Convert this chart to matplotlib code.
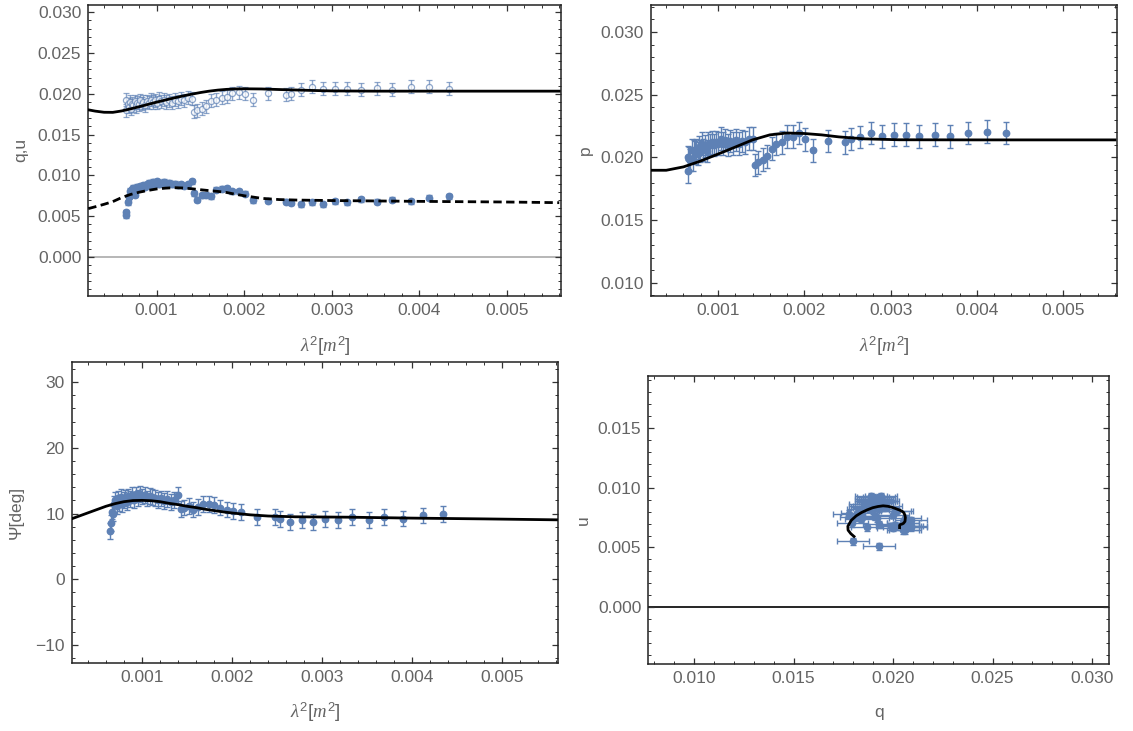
import matplotlib.pyplot as plt
from matplotlib.ticker import MultipleLocator, FormatStrFormatter, FuncFormatter

# fonts: Arial-like for numbers, serif italic for the math symbols
plt.rcParams['font.family'] = ['Liberation Sans', 'DejaVu Sans']
plt.rcParams['mathtext.fontset'] = 'custom'
plt.rcParams['mathtext.rm'] = 'Liberation Sans'
plt.rcParams['mathtext.it'] = 'Liberation Serif:italic'

# ---- measured data (lambda^2 in m^2) ----
lam2 = [0.000650, 0.000655, 0.000668, 0.000680, 0.000693, 0.000706, 0.000720,
        0.000734, 0.000749, 0.000764, 0.000780, 0.000796, 0.000813, 0.000831,
        0.000849, 0.000868, 0.000888, 0.000909, 0.000931, 0.000954, 0.000978,
        0.001003, 0.001029, 0.001056, 0.001084, 0.001113, 0.001143, 0.001175,
        0.001208, 0.001243, 0.001280, 0.001318, 0.001358, 0.001400, 0.001430,
        0.001464, 0.001518, 0.001568, 0.001622, 0.001676, 0.001742, 0.001800,
        0.001865, 0.001943, 0.002012, 0.002097, 0.002275, 0.002476, 0.002537,
        0.002646, 0.002773, 0.002901, 0.003036, 0.003175, 0.003333, 0.003515,
        0.003689, 0.003901, 0.004113, 0.004341]

q = [0.0193, 0.0180, 0.0187, 0.0184, 0.0190, 0.0182, 0.0188, 0.0186, 0.0191,
     0.0185, 0.0189, 0.0187, 0.0192, 0.0188, 0.0190, 0.0186, 0.0191, 0.0189,
     0.0193, 0.0190, 0.0192, 0.0189, 0.0194, 0.0191, 0.0193, 0.0190, 0.0192,
     0.0189, 0.0193, 0.0191, 0.0194, 0.0192, 0.0195, 0.0194, 0.0178,
     0.01796, 0.01816, 0.01845, 0.01918, 0.01927, 0.01951, 0.01967, 0.02008,
     0.02020, 0.02000, 0.01927, 0.02008, 0.01992, 0.02000, 0.02049, 0.02090,
     0.02061, 0.02061, 0.02061, 0.02049, 0.02069, 0.02049, 0.02090, 0.02090,
     0.02061]

u = [0.0051, 0.0055, 0.0067, 0.0074, 0.0081, 0.0079, 0.0083, 0.0085, 0.0076,
     0.0082, 0.0086, 0.0084, 0.0087, 0.0085, 0.0088, 0.0086, 0.0089, 0.0091,
     0.0088, 0.0092, 0.0090, 0.0093, 0.0089, 0.0091, 0.0092, 0.0090, 0.0091,
     0.0089, 0.0090, 0.0088, 0.0089, 0.0087, 0.0089, 0.0093, 0.0078,
     0.00702, 0.00755, 0.00763, 0.00743, 0.00824, 0.00837, 0.00845, 0.00804,
     0.00804, 0.00776, 0.00694, 0.00686, 0.00678, 0.00665, 0.00645, 0.00669,
     0.00645, 0.00682, 0.00669, 0.00706, 0.00678, 0.00702, 0.00682, 0.00727,
     0.00743]

p = [0.0200, 0.0189, 0.0199, 0.0198, 0.0206, 0.0198, 0.0205, 0.0204, 0.0206,
     0.0203, 0.0208, 0.0205, 0.0211, 0.0206, 0.0209, 0.0205, 0.0211, 0.0210,
     0.0212, 0.0210, 0.0212, 0.0211, 0.0215, 0.0211, 0.0214, 0.0210, 0.0213,
     0.0211, 0.0214, 0.0211, 0.0213, 0.0212, 0.0215, 0.0215, 0.0194,
     0.0196, 0.01983, 0.02010, 0.02071, 0.02108, 0.02121, 0.02166, 0.02166,
     0.02195, 0.02145, 0.02057, 0.02132, 0.02121, 0.02148, 0.02164, 0.02195,
     0.02169, 0.02182, 0.02182, 0.02169, 0.02182, 0.02169, 0.02195, 0.02206,
     0.02195]

psi = [7.3, 8.6, 10.3, 10.0, 11.5, 12.1, 11.2, 12.3, 11.6, 12.5, 11.4, 12.0,
       12.4, 11.7, 12.6, 12.2, 12.8, 12.0, 12.9, 12.4, 13.0, 12.6, 12.8, 12.3,
       12.7, 12.5, 12.4, 12.1, 12.3, 11.9, 12.2, 11.8, 12.0, 12.8, 10.7,
       10.9, 11.1, 10.6, 11.0, 11.4, 11.5, 11.3, 10.9, 10.6, 10.35, 10.2, 9.44,
       9.44, 9.19, 8.74, 8.99, 8.74, 9.19, 8.99, 9.44, 8.99, 9.5, 9.24, 9.7,
       9.95]

q_err = 0.0008
u_err = 0.0003
p_err = 0.0009
psi_err = 1.2

# ---- model curves ----
fit_lam2 = [0.00022, 0.0003, 0.0004, 0.0005, 0.0006, 0.0007, 0.0008, 0.0009,
            0.0010, 0.0011, 0.0012, 0.0013, 0.0014, 0.0015, 0.0016, 0.0017,
            0.0018, 0.0019, 0.0020, 0.0022, 0.0024, 0.0026, 0.0028, 0.0030,
            0.0035, 0.0040, 0.0045, 0.0050, 0.0056]
q_fit = [0.01804, 0.01788, 0.01774, 0.01773, 0.01790, 0.01815, 0.01842,
         0.01870, 0.01898, 0.01924, 0.01950, 0.01974, 0.01996, 0.02016,
         0.02033, 0.02046, 0.02055, 0.02060, 0.02062, 0.02060, 0.02053,
         0.02047, 0.02041, 0.02036, 0.02033, 0.02033, 0.02033, 0.02033,
         0.02033]
u_fit = [0.00592, 0.00615, 0.00645, 0.00678, 0.00727, 0.00765, 0.00793,
         0.00815, 0.00833, 0.00843, 0.00849, 0.00845, 0.00836, 0.00824,
         0.00813, 0.00803, 0.00790, 0.00768, 0.00750, 0.00718, 0.00703,
         0.00697, 0.00694, 0.00691, 0.00686, 0.00681, 0.00677, 0.00673,
         0.00665]

p_fit_lam2 = [0.00022, 0.0004, 0.0006, 0.0008, 0.0010, 0.0012, 0.0014, 0.0016,
              0.0018, 0.0020, 0.0022, 0.0024, 0.0027, 0.0031, 0.0040, 0.0056]
p_fit = [0.01898, 0.01898, 0.01925, 0.01972, 0.02027, 0.02083, 0.02140,
         0.02180, 0.02195, 0.02191, 0.02180, 0.02164, 0.02148, 0.02141,
         0.02140, 0.02140]

psi_fit_lam2 = [0.00022, 0.0003, 0.0004, 0.0005, 0.0006, 0.0007, 0.0008,
                0.0009, 0.0010, 0.0011, 0.0012, 0.0013, 0.0014, 0.0015,
                0.0016, 0.0017, 0.0018, 0.0019, 0.0020, 0.0022, 0.0024,
                0.0027, 0.0033, 0.0040, 0.0048, 0.0056]
psi_fit = [9.2, 9.6, 10.1, 10.6, 11.1, 11.5, 11.8, 11.97, 12.0, 11.95, 11.8,
           11.55, 11.35, 11.1, 10.9, 10.65, 10.45, 10.25, 10.08, 9.8, 9.62,
           9.5, 9.44, 9.3, 9.18, 9.04]

BLUE = '#5e81b5'
LABEL = '#646464'
W, H = 1133, 731


def box(l, t, r, b):
    # pixel box -> figure fraction
    return [l / W, 1 - b / H, (r - l) / W, (b - t) / H]


def style(ax, xmaj, xmin, ymaj, ymin, xfmt, yfmt):
    ax.xaxis.set_major_locator(MultipleLocator(xmaj))
    ax.xaxis.set_minor_locator(MultipleLocator(xmin))
    ax.yaxis.set_major_locator(MultipleLocator(ymaj))
    ax.yaxis.set_minor_locator(MultipleLocator(ymin))
    ax.xaxis.set_major_formatter(xfmt)
    ax.yaxis.set_major_formatter(yfmt)
    ax.tick_params(which='both', direction='in', top=True, right=True,
                   color='#333333', labelcolor=LABEL, labelsize=12.5, pad=5)
    ax.tick_params(which='major', length=4.5, width=0.9)
    ax.tick_params(which='minor', length=2.5, width=0.7)
    for s in ax.spines.values():
        s.set_color('#222222')
        s.set_linewidth(1.1)


f3 = FormatStrFormatter('%.3f')
fint = FuncFormatter(lambda v, pos: ('%d' % round(v)).replace('-', '\u2212'))

fig = plt.figure(figsize=(W / 100, H / 100), dpi=100)

ebar = dict(ecolor=BLUE, elinewidth=1.0, capsize=2.5, capthick=1.0)

# top left: q and u
ax1 = fig.add_axes(box(88.3, 5, 561, 296))
ax1.axhline(0, color='#aaaaaa', lw=1.2, zorder=1)
ax1.errorbar(lam2, q, yerr=q_err, fmt='o', ms=4.4, mfc='white', mec=BLUE,
             mew=0.9, alpha=0.7, zorder=2, **ebar)
ax1.errorbar(lam2, u, yerr=u_err, fmt='o', ms=4.6, color=BLUE, zorder=2, **ebar)
ax1.plot(fit_lam2, q_fit, color='black', lw=2, zorder=3)
ax1.plot(fit_lam2, u_fit, color='black', lw=2, ls=(0, (3, 1.6)), zorder=3)
ax1.set_xlim(0.00022, 0.00562)
ax1.set_ylim(-0.0048, 0.0309)
style(ax1, 0.001, 0.0002, 0.005, 0.001, f3, f3)

# top right: p
ax2 = fig.add_axes(box(650.7, 5, 1116.7, 296))
ax2.errorbar(lam2, p, yerr=p_err, fmt='o', ms=4.6, color=BLUE, zorder=2, **ebar)
ax2.plot(p_fit_lam2, p_fit, color='black', lw=2, zorder=3)
ax2.set_xlim(0.00022, 0.00562)
ax2.set_ylim(0.00896, 0.03215)
style(ax2, 0.001, 0.0002, 0.005, 0.001, f3, f3)

# bottom left: polarisation angle
ax3 = fig.add_axes(box(71.7, 361.7, 558.3, 662.7))
ax3.errorbar(lam2, psi, yerr=psi_err, fmt='o', ms=4.6, color=BLUE, zorder=2, **ebar)
ax3.plot(psi_fit_lam2, psi_fit, color='black', lw=2, zorder=3)
ax3.set_xlim(0.00022, 0.00562)
ax3.set_ylim(-12.7, 33.1)
style(ax3, 0.001, 0.0002, 10, 2, f3, fint)

# bottom right: q-u plane
ax4 = fig.add_axes(box(648.3, 375.7, 1109.3, 664.3))
ax4.axhline(0, color='black', lw=1.2, zorder=1)
ax4.errorbar(q, u, xerr=q_err, yerr=u_err, fmt='o', ms=4.6, color=BLUE,
             zorder=2, **ebar)
ax4.plot(q_fit, u_fit, color='black', lw=2, zorder=3)
ax4.set_xlim(0.0077, 0.03087)
ax4.set_ylim(-0.0048, 0.0194)
style(ax4, 0.005, 0.001, 0.005, 0.001, f3, f3)

# axis titles (outside the tick labels, as in the frame labels of the source)
lab = dict(color=LABEL, fontsize=12.5, ha='center', va='center')
fig.text(21 / W, 1 - 150 / H, 'q,u', rotation=90, **lab)
fig.text(585 / W, 1 - 150 / H, 'p', rotation=90, **lab)
fig.text(16 / W, 1 - 512 / H, 'Ψ[deg]', rotation=90, **lab)
fig.text(583 / W, 1 - 520 / H, 'u', rotation=90, **lab)
xl = dict(color=LABEL, fontsize=13.5, ha='center', va='center')
fig.text(325 / W, 1 - 346 / H, r'$\lambda^2[m^2]$', **xl)
fig.text(884 / W, 1 - 346 / H, r'$\lambda^2[m^2]$', **xl)
fig.text(315 / W, 1 - 712 / H, r'$\lambda^2[m^2]$', **xl)
fig.text(879 / W, 1 - 712 / H, 'q', **lab)

fig.savefig('out.png', dpi=100)
